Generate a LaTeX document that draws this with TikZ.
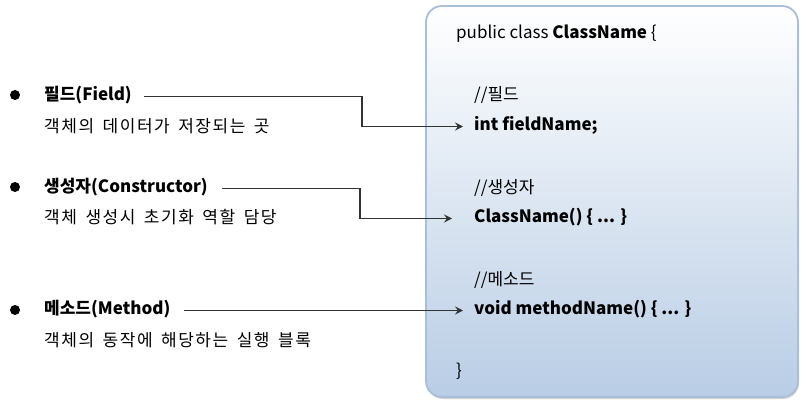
\documentclass[tikz,border=0pt]{standalone}
\usepackage{fontspec}
\setmainfont{Noto Sans CJK KR}
\newfontfamily\krsp[LetterSpace=9]{Noto Sans CJK KR}
\newcommand\mydescfont{\krsp\fontsize{17}{20}\selectfont\spaceskip=8.5pt\relax}
\usetikzlibrary{arrows.meta,shadows}
\definecolor{boxc}{HTML}{B9CDE5}
\definecolor{boxb}{HTML}{A9BFD9}
\definecolor{linec}{HTML}{333333}
\begin{document}
\begin{tikzpicture}[x=1pt,y=-1pt,
  txt/.style={anchor=base west, inner sep=0pt, text height=12pt, text depth=3pt, font=\fontsize{17}{20}\selectfont},
  bold/.style={font=\fontsize{17}{20}\selectfont\bfseries},
  desc/.style={font=\mydescfont},
  bul/.style={circle, fill=black, inner sep=0pt, minimum size=10pt},
  conn/.style={draw=linec, line width=1.2pt, -{Stealth[length=8pt,width=8pt,inset=3pt]}}
]
\path[fill=white] (0,0) rectangle (804,406);
\useasboundingbox (0,0) rectangle (804,406);
\path[draw=boxb, line width=1.8pt, rounded corners=16pt, top color=white, bottom color=boxc,
  drop shadow={shadow xshift=1pt, shadow yshift=-2pt, opacity=0.35}] (426,6) rectangle (798,397);

\node[bul] (b1) at (15,95) {};
\node[bul] (b2) at (15,187) {};
\node[bul] (b3) at (15,310) {};

\node[txt,bold] (f1) at (44,101) {필드(Field)};
\node[txt,desc] (d1) at (44,133) {객체의 데이터가 저장되는 곳};
\node[txt,bold] (f2) at (44,193) {생성자(Constructor)};
\node[txt,desc] (d2) at (44,224) {객체 생성시 초기화 역할 담당};
\node[txt,bold] (f3) at (44,315) {메소드(Method)};
\node[txt,desc] (d3) at (44,347) {객체의 동작에 해당하는 실행 블록};

\node[txt] (c0) at (456,39) {public class \textbf{ClassName} \{};
\node[txt] (k1) at (474,101) {//필드};
\node[txt,bold] (v1) at (474,131) {int fieldName;};
\node[txt] (k2) at (474,194) {//생성자};
\node[txt,bold] (v2) at (474,223) {ClassName() \{ ... \}};
\node[txt] (k3) at (474,286) {//메소드};
\node[txt,bold] (v3) at (474,315) {void methodName() \{ ... \}};
\node[txt] (c9) at (456,377) {\}};

\draw[conn] ([xshift=12pt]f1.east) -| ([xshift=-112pt]v1.west) -- ([xshift=-11pt]v1.west);
\draw[conn] ([xshift=14pt]f2.east) -| ([xshift=-114pt]v2.west) -- ([xshift=-22pt]v2.west);
\draw[conn] ([xshift=13pt]f3.east) -- ([xshift=-11pt]v3.west);
\end{tikzpicture}
\end{document}
